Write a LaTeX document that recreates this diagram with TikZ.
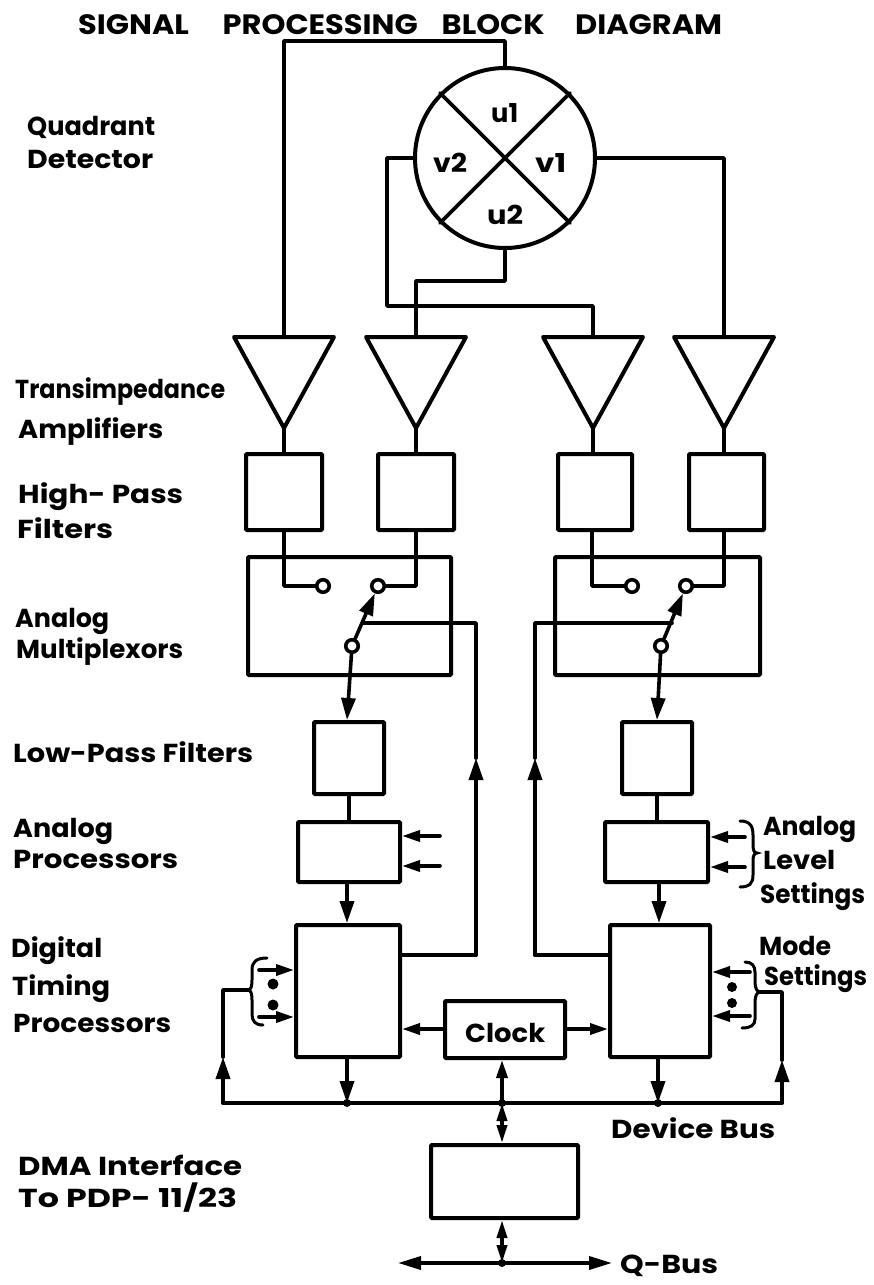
\documentclass[tikz,border=0pt]{standalone}
\usepackage{fontspec}
\usepackage{graphicx}
\setmainfont{Poppins}
\usetikzlibrary{arrows.meta}
\tikzset{
  wire/.style={line width=3.6pt,line join=round,line cap=round},
  boxn/.style={draw,line width=4pt,rounded corners=1pt,inner sep=0pt},
  arr/.style={wire,-{Triangle[length=22pt,width=14pt]}},
  arrs/.style={wire,-{Triangle[length=18pt,width=11pt]}},
  dbl/.style={wire,{Triangle[length=18pt,width=10pt]}-{Triangle[length=18pt,width=10pt]}},
  sw/.style={circle,draw,fill=white,line width=3.6pt,minimum size=12.5pt,inner sep=0pt},
  dotn/.style={circle,fill=black,minimum size=8pt,inner sep=0pt},
  lab/.style={anchor=base west,inner sep=0pt,font=\fontsize{26}{30}\selectfont\bfseries},
  ttl/.style={anchor=base west,inner sep=0pt,font=\fontsize{28}{30}\selectfont\bfseries},
  brc/.style={line width=3pt,line cap=round},
}
\newcommand{\tx}[2]{\resizebox{#1pt}{\height}{#2}}
\newcommand{\bx}[5]{\node[boxn,minimum width=#4-#2,minimum height=#5-#3] (#1) at ({(#2+#4)/2},{(#3+#5)/2}) {};}
\newcommand{\ampl}[2]{%
  \coordinate (#1) at (#2,337);\coordinate (#1o) at (#2,428);
  \draw[wire,line width=4pt] (#2-50,337) -- (#2+50,337) -- (#2,428) -- cycle;}
\begin{document}
\begin{tikzpicture}[x=1pt,y=-1pt]
\useasboundingbox (0,0) rectangle (873,1285);
% detector
\node[circle,draw,line width=4pt,minimum size=180pt,inner sep=0pt] (qd) at (505,158) {};
\draw[wire] (qd.north west) -- (qd.south east);
\draw[wire] (qd.north east) -- (qd.south west);
\node[lab] (tu1) at (491,122) {\tx{27}{u1}};
\node[lab] (tv2) at (433,172) {\tx{34}{v2}};
\node[lab] (tv1) at (535,172) {\tx{31}{v1}};
\node[lab] (tu2) at (487,224) {\tx{36}{u2}};
% amplifiers
\ampl{a1}{284}\ampl{a2}{416}\ampl{a3}{593}\ampl{a4}{724}
% boxes
\bx{h1}{246}{454}{322}{530}\bx{h2}{378}{454}{454}{530}\bx{h3}{558}{454}{632}{530}\bx{h4}{689}{454}{764}{530}
\bx{m1}{248}{557}{451}{675}\bx{m2}{555}{557}{760}{675}
\bx{l1}{314}{722}{384}{794}\bx{l2}{622}{722}{692}{794}
\bx{p1}{298}{822}{400}{882}\bx{p2}{605}{822}{708}{882}
\bx{d1}{296}{925}{400}{1057}\bx{d2}{610}{925}{710}{1057}
\bx{ck}{445}{1001}{565}{1058}\bx{dma}{431}{1145}{578}{1218}
\node[lab] (tck) at (465,1042) {\tx{80}{Clock}};
% detector wiring
\coordinate (t1) at (284,41);\coordinate (t2) at (505,41);
\draw[wire] (a1) -- (t1) -- (t2) -- (qd.north);
\coordinate (u1) at (505,281);\coordinate (u2) at (416,281);
\draw[wire] (qd.south) -- (u1) -- (u2) -- (a2);
\coordinate (v1) at (387,158);\coordinate (v2) at (387,306);\coordinate (v3) at (593,306);
\draw[wire] (qd.west) -- (v1) -- (v2) -- (v3) -- (a3);
\coordinate (w1) at (724,158);
\draw[wire] (qd.east) -- (w1) -- (a4);
\draw[wire] (a1o) -- (h1.north -| a1o);
\draw[wire] (a2o) -- (h2.north -| a2o);
\draw[wire] (a3o) -- (h3.north -| a3o);
\draw[wire] (a4o) -- (h4.north -| a4o);
% left mux
\node[sw] (s1a) at (323,586) {};\node[sw] (s1b) at (378,586) {};\node[sw] (s1c) at (352,646) {};
\coordinate (c1) at (284,586);\coordinate (c2) at (416,586);
\draw[wire] (h1.south -| c1) -- (c1) -- (s1a);
\draw[wire] (h2.south -| c2) -- (c2) -- (s1b);
\draw[arr] (s1c) -- (s1b);
\coordinate (c3) at (363,623);\coordinate (c4) at (476,623);\coordinate (c5) at (476,758);\coordinate (c6) at (476,955);
\draw[wire] (c3) -- (c4) -- (c5);
\draw[arr] (c6) -- (c5);
\draw[wire] (d1.east |- c6) -- (c6);
\draw[arr] (s1c) -- (l1.north -| 347,0);
% right mux
\node[sw] (s2a) at (632,586) {};\node[sw] (s2b) at (686,586) {};\node[sw] (s2c) at (661,646) {};
\coordinate (e1) at (592,586);\coordinate (e2) at (724,586);
\draw[wire] (h3.south -| e1) -- (e1) -- (s2a);
\draw[wire] (h4.south -| e2) -- (e2) -- (s2b);
\draw[arr] (s2c) -- (s2b);
\coordinate (e3) at (672,623);\coordinate (e4) at (535,623);\coordinate (e5) at (535,758);\coordinate (e6) at (535,955);
\draw[wire] (e3) -- (e4) -- (e5);
\draw[arr] (e6) -- (e5);
\draw[wire] (d2.west |- e6) -- (e6);
\draw[arr] (s2c) -- (l2.north -| 657,0);
% chain
\draw[wire] (l1.south) -- (p1.north -| l1.south);
\draw[wire] (l2.south) -- (p2.north -| l2.south);
\coordinate (f1) at (347,882);\coordinate (f2) at (659,882);
\draw[arr] (f1) -- (d1.north -| f1);
\draw[arr] (f2) -- (d2.north -| f2);
% bus
\coordinate (b0) at (223,1103);\coordinate (b1) at (347,1103);\coordinate (b2) at (502,1103);\coordinate (b3) at (658,1103);\coordinate (b4) at (782,1103);
\draw[wire] (b0) -- (b4);
\node[dotn] (j1) at (b1) {};\node[dotn] (j2) at (b2) {};\node[dotn] (j3) at (b3) {};
\draw[arr] (d1.south -| b1) -- (b1);
\draw[arr] (d2.south -| b3) -- (b3);
\draw[arrs] (b2) -- (ck.south -| b2);
\draw[dbl] (b2) -- (dma.north -| b2);
\coordinate (q0) at (398,1263);\coordinate (q1) at (502,1263);\coordinate (q2) at (612,1263);
\draw[dbl] (dma.south -| q1) -- (q1);
\node[dotn] (j4) at (q1) {};
\draw[wire,{Triangle[length=23pt,width=13pt]}-{Triangle[length=23pt,width=13pt]}] (q0) -- (q2);
% clock arrows
\draw[arrs] (ck.west |- 0,1029) -- (d1.east |- 0,1029);
\draw[arrs] (ck.east |- 0,1029) -- (d2.west |- 0,1029);
% analog level arrows
\coordinate (g1) at (440,836);\coordinate (g2) at (440,866);\coordinate (g3) at (745,837);\coordinate (g4) at (745,867);
\draw[arrs] (g1) -- (p1.east |- g1);
\draw[arrs] (g2) -- (p1.east |- g2);
\draw[arrs] (g3) -- (p2.east |- g3);
\draw[arrs] (g4) -- (p2.east |- g4);
\draw[brc] (740,821) .. controls (750,821) and (753,826) .. (753,835) -- (753,844) .. controls (753,850) and (754,853) .. (757,853) .. controls (754,853) and (753,856) .. (753,862) -- (753,875) .. controls (753,884) and (749,887) .. (740,887);
% left mode
\coordinate (k1) at (259,970);\coordinate (k2) at (259,1017);
\draw[arrs] (k1) -- (d1.west |- k1);
\draw[arrs] (k2) -- (d1.west |- k2);
\node[dotn,minimum size=11pt] (k3) at (273,984) {};\node[dotn,minimum size=11pt] (k4) at (273,1005) {};
\draw[brc] (267,958) .. controls (256,958) and (252,962) .. (252,970) -- (252,980) .. controls (252,986) and (251,990) .. (248,990) .. controls (251,990) and (252,994) .. (252,1000) -- (252,1014) .. controls (252,1021) and (255,1025) .. (263,1025);
\coordinate (k5) at (223,990);\coordinate (k6) at (248,990);\coordinate (k7) at (223,1057);
\draw[wire] (k6) -- (k5) -- (k7);
\draw[arr] (b0) -- (k7);
% right mode
\coordinate (n1) at (750,972);\coordinate (n2) at (750,1016);
\draw[arrs] (n1) -- (d2.east |- n1);
\draw[arrs] (n2) -- (d2.east |- n2);
\node[dotn,minimum size=10pt] (n3) at (732,987) {};\node[dotn,minimum size=10pt] (n4) at (732,1003) {};
\draw[brc] (745,962) .. controls (752,962) and (755,966) .. (755,972) -- (755,982) .. controls (755,988) and (757,992) .. (760,992) .. controls (757,992) and (755,996) .. (755,1002) -- (755,1019) .. controls (755,1025) and (751,1028) .. (742,1028);
\coordinate (n5) at (760,992);\coordinate (n6) at (782,992);\coordinate (n7) at (782,1060);
\draw[wire] (n5) -- (n6) -- (n7);
\draw[arr] (b4) -- (n7);
% texts
\node[ttl] (title) at (78,34) {\tx{644}{SIGNAL\hspace{31pt}PROCESSING\hspace{22pt}BLOCK\hspace{28pt}DIAGRAM}};
\node[lab] (x1) at (27,135) {\tx{128}{Quadrant}};
\node[lab] (x2) at (27,168) {\tx{126}{Detector}};
\node[lab] (x3) at (15,398) {\tx{210}{Transimpedance}};
\node[lab] (x4) at (18,438) {\tx{145}{Amplifiers}};
\node[lab] (x5) at (18,503) {\tx{165}{High- Pass}};
\node[lab] (x6) at (17,538) {\tx{96}{Filters}};
\node[lab] (x7) at (15,627) {\tx{94}{Analog}};
\node[lab] (x8) at (16,658) {\tx{167}{Multiplexors}};
\node[lab] (x9) at (13,762) {\tx{240}{Low-Pass Filters}};
\node[lab] (x10) at (13,837) {\tx{100}{Analog}};
\node[lab] (x11) at (13,868) {\tx{165}{Processors}};
\node[lab] (x12) at (11,957) {\tx{91}{Digital}};
\node[lab] (x13) at (12,995) {\tx{98}{Timing}};
\node[lab] (x14) at (13,1032) {\tx{158}{Processors}};
\node[lab] (x15) at (18,1175) {\tx{224}{DMA Interface}};
\node[lab] (x16) at (18,1207) {\tx{219}{To PDP- 11/23}};
\node[lab] (x17) at (611,1138) {\tx{164}{Device Bus}};
\node[lab] (x18) at (620,1273) {\tx{98}{Q-Bus}};
\node[lab] (x19) at (763,835) {\tx{93}{Analog}};
\node[lab] (x20) at (763,869) {\tx{72}{Level}};
\node[lab] (x21) at (760,903) {\tx{105}{Settings}};
\node[lab] (x22) at (759,955) {\tx{72}{Mode}};
\node[lab] (x23) at (764,985) {\tx{103}{Settings}};
\end{tikzpicture}
\end{document}
